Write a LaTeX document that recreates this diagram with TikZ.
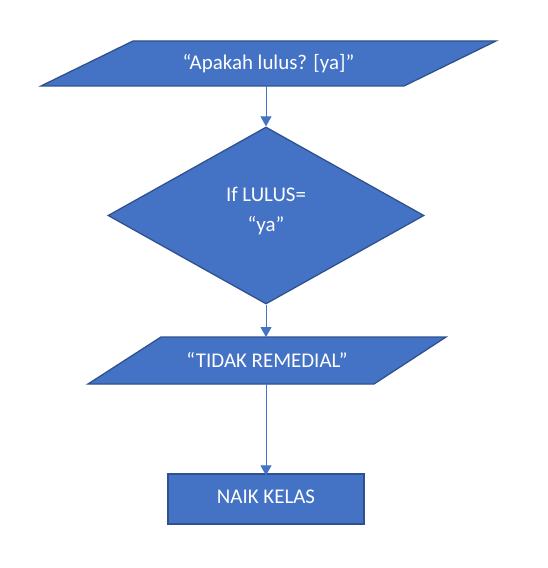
\documentclass[tikz,border=0pt]{standalone}
\usepackage{fontspec}
\setmainfont{Carlito}
\usetikzlibrary{shapes.geometric,arrows.meta}
\definecolor{boxfill}{HTML}{4472C4}
\definecolor{boxline}{HTML}{2F528F}
\tikzset{
  shapebox/.style={fill=boxfill,draw=boxline,line width=1.3bp,line join=miter},
  txt/.style={text=white,font=\fontsize{21}{31}\selectfont,align=center,inner sep=0pt},
  conn/.style={draw=boxfill,line width=1bp,-{Triangle[length=10bp,width=11bp]}}
}
\begin{document}
\begin{tikzpicture}[x=1bp,y=-1bp]
\useasboundingbox (0,0) rectangle (548,568);
% top parallelogram
\draw[shapebox] (133,41) -- (496,41) -- (404,86) -- (41,86) -- cycle;
\node[txt] (p1) at (268.5,63.5) {“Apakah lulus? [ya]”};
\coordinate (p1bot) at (266,86);
% diamond
\node[shapebox,diamond,minimum width=316bp,minimum height=177bp,inner sep=0pt] (d) at (266,215.5) {};
\node[txt] (dtext) at (266,211) {If LULUS=\\“ya”};
% second parallelogram
\draw[shapebox] (161,337) -- (446,337) -- (374,384) -- (88,384) -- cycle;
\node[txt] (p2) at (267,360) {“TIDAK REMEDIAL”};
\coordinate (p2top) at (266,337);
\coordinate (p2bot) at (266,384);
% rectangle
\node[shapebox,rectangle,minimum width=196bp,minimum height=50bp,inner sep=0pt] (r) at (266,499) {};
\node[txt] (rtext) at (266,497) {NAIK KELAS};
% connectors
\draw[conn] (p1bot) -- (d.north);
\draw[conn] (d.south) -- (p2top);
\draw[conn] (p2bot) -- ([yshift=-2bp]r.north);
\end{tikzpicture}
\end{document}
